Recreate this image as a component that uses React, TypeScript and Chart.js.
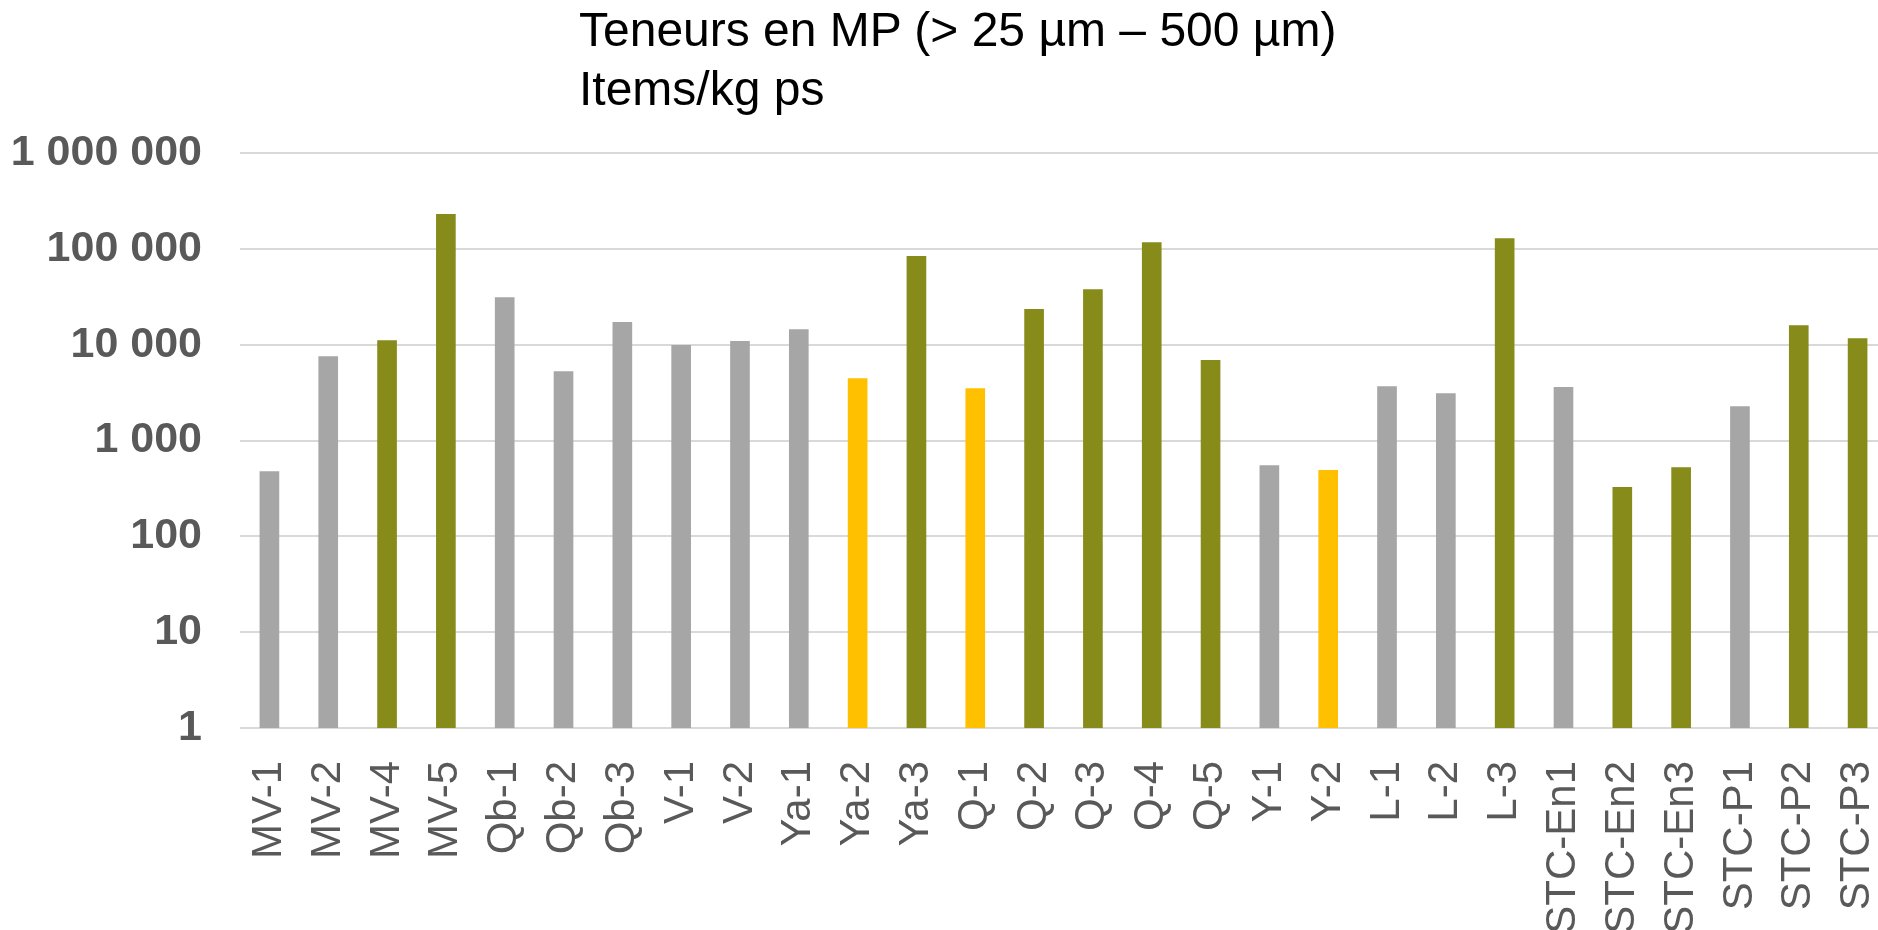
import React, { useEffect, useRef } from "react";
import { Chart, registerables } from "chart.js";

Chart.register(...registerables);

const categories = [
  "MV-1", "MV-2", "MV-4", "MV-5", "Qb-1", "Qb-2", "Qb-3", "V-1", "V-2", "Ya-1",
  "Ya-2", "Ya-3", "Q-1", "Q-2", "Q-3", "Q-4", "Q-5", "Y-1", "Y-2", "L-1",
  "L-2", "L-3", "STC-En1", "STC-En2", "STC-En3", "STC-P1", "STC-P2", "STC-P3",
];

const values = [
  475, 7530, 11000, 229000, 31000, 5250, 17060, 9840, 10830, 14390,
  4430, 83600, 3490, 23380, 37600, 116500, 6860, 547, 489, 3660,
  3090, 128000, 3590, 324, 521, 2254, 15840, 11560,
];

// group of each sample: "a" = grey, "b" = olive, "c" = yellow
const groups = [
  "a", "a", "b", "b", "a", "a", "a", "a", "a", "a",
  "c", "b", "c", "b", "b", "b", "b", "a", "c", "a",
  "a", "b", "a", "b", "b", "a", "b", "b",
];

const yTicks = [1, 10, 100, 1000, 10000, 100000, 1000000];

const titleLines = ["Teneurs en MP (> 25 µm – 500 µm)", "Items/kg ps"];

const groupColors: Record<string, string> = {
  a: "#A6A6A6",
  b: "#878B19",
  c: "#FFC000",
};

const fmt = (v: number) => String(Math.round(v)).replace(/\B(?=(\d{3})+(?!\d))/g, " ");

export default function App() {
  const canvasRef = useRef<HTMLCanvasElement | null>(null);

  useEffect(() => {
    if (!canvasRef.current) return;
    const chart = new Chart(canvasRef.current, {
      type: "bar",
      data: {
        labels: categories,
        datasets: [
          {
            data: values,
            backgroundColor: groups.map((g) => groupColors[g]),
            barThickness: 19,
            borderWidth: 0,
          },
        ],
      },
      options: {
        responsive: false,
        animation: false,
        devicePixelRatio: 1,
        layout: { padding: { top: 153, right: 3, bottom: 0, left: 0 } },
        plugins: {
          legend: { display: false },
          title: { display: false },
          tooltip: { enabled: false },
        },
        scales: {
          x: {
            grid: { display: false },
            border: { display: false },
            ticks: {
              autoSkip: false,
              maxRotation: 90,
              minRotation: 90,
              padding: 25,
              color: "#595959",
              font: { family: "'Liberation Sans', Arial, sans-serif", size: 42 },
            },
            afterFit: (scale: any) => {
              scale.height = 202;
              scale.paddingLeft = 0;
              scale.paddingRight = 0;
            },
          },
          y: {
            type: "logarithmic",
            min: 1,
            max: 1000000,
            grid: { color: "#D9D9D9", lineWidth: 2, drawTicks: false },
            border: { display: false },
            afterBuildTicks: (scale: any) => {
              scale.ticks = yTicks.map((v) => ({ value: v }));
            },
            afterFit: (scale: any) => {
              scale.width = 240;
              scale.paddingTop = 0;
              scale.paddingBottom = 0;
            },
            ticks: {
              padding: 38,
              color: "#595959",
              font: { family: "'Liberation Sans', Arial, sans-serif", size: 43, weight: "bold" },
              callback: (v: any) => fmt(Number(v)),
            },
          },
        },
      },
    });
    return () => chart.destroy();
  }, []);

  return (
    <div
      style={{
        position: "fixed",
        left: 0,
        top: 0,
        width: 1878,
        height: 930,
        overflow: "hidden",
        background: "#fff",
      }}
    >
      <canvas ref={canvasRef} width={1890} height={930} style={{ display: "block" }} />
      <div
        style={{
          position: "absolute",
          left: 579,
          top: 0,
          fontFamily: "'Liberation Sans', Arial, sans-serif",
          fontSize: 48,
          lineHeight: "59px",
          color: "#000",
          whiteSpace: "nowrap",
        }}
      >
        {titleLines.map((l, i) => (
          <div key={i}>{l}</div>
        ))}
      </div>
    </div>
  );
}
